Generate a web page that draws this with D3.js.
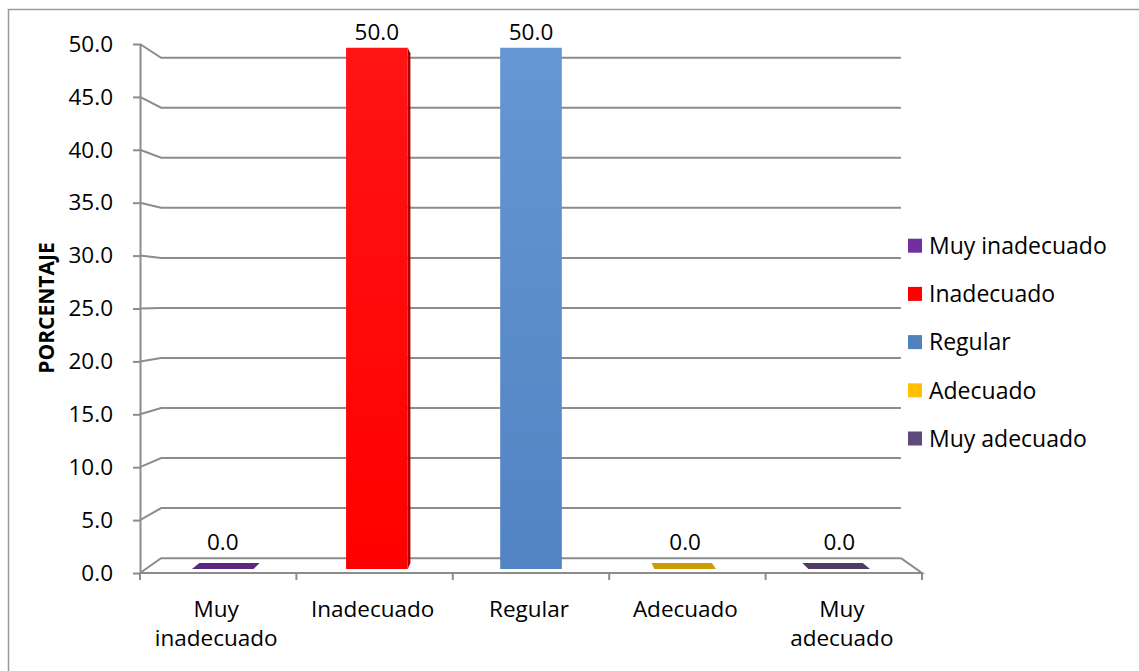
<!DOCTYPE html>
<html>
<head>
<meta charset="utf-8">
<script src="https://cdn.jsdelivr.net/npm/d3@7"></script>
<style>
  body { margin: 0; background: #fff; }
  svg { display: block; }
  text { font-family: "Open Sans", "DejaVu Sans", sans-serif; fill: #000; }
</style>
</head>
<body>
<svg id="chart" width="1139" height="671"></svg>
<script>
// ---- data ----
const categories = ["Muy inadecuado", "Inadecuado", "Regular", "Adecuado", "Muy adecuado"];
const categoryLines = [["Muy", "inadecuado"], ["Inadecuado"], ["Regular"], ["Adecuado"], ["Muy", "adecuado"]];
const percentages = [0.0, 50.0, 50.0, 0.0, 0.0];
const yTickValues = [0, 5, 10, 15, 20, 25, 30, 35, 40, 45, 50];
const seriesColors = ["#7030A0", "#FF0000", "#4F81BD", "#FFC000", "#604A7B"];
const axisTitle = "PORCENTAJE";

// ---- layout ----
const svg = d3.select("#chart");
const gridColor = "#8c8c8c";
const fontSize = 22.5;

const x = d3.scaleBand().domain(categories).range([140, 922]);
const y = d3.scaleLinear().domain([0, 50]).range([573, 44]);

// simple perspective: front plane at depth 0, back wall at depth 1
const vp = [(x.range()[0] + x.range()[1]) / 2, 298];
const shrink = 0.054;
function proj(px, py, depth) {
  const s = 1 - shrink * depth;
  return [vp[0] + (px - vp[0]) * s, vp[1] + (py - vp[1]) * s];
}
const poly = pts => "M" + pts.map(p => p.join(",")).join("L") + "Z";

// chart frame
svg.append("rect")
  .attr("x", 8.5).attr("y", 9.5).attr("width", 1400).attr("height", 900)
  .attr("fill", "none").attr("stroke", "#9a9a9a").attr("stroke-width", 1.5);

// gradients for the tall bars
const defs = svg.append("defs");
const gradStops = {
  1: ["#ff1414", "#ff0000"],
  2: ["#6697d4", "#5283c2"]
};
Object.entries(gradStops).forEach(([i, [c0, c1]]) => {
  const g = defs.append("linearGradient").attr("id", "barGrad" + i)
    .attr("x1", 0).attr("y1", 0).attr("x2", 0).attr("y2", 1);
  g.append("stop").attr("offset", "0%").attr("stop-color", c0);
  g.append("stop").attr("offset", "100%").attr("stop-color", c1);
});

// ---- walls and floor ----
const [xL, xR] = x.range();
const grid = svg.append("g").attr("fill", "none").attr("stroke", gridColor).attr("stroke-width", 2);
yTickValues.forEach(v => {
  const a = proj(xL, y(v), 0), b = proj(xL, y(v), 1), c = proj(xR, y(v), 1);
  grid.append("path").attr("d", `M${a}L${b}L${c}`);
});
// floor front edge and right edge
{
  const a = proj(xL, y(0), 0), b = proj(xR, y(0), 0), c = proj(xR, y(0), 1);
  grid.append("path").attr("d", `M${a}L${b}L${c}`);
}

// ---- y axis ----
const yAxis = svg.append("g")
  .attr("transform", `translate(${xL},0)`)
  .call(d3.axisLeft(y).tickValues(yTickValues).tickFormat(d3.format(".1f"))
    .tickSize(7).tickSizeOuter(0).tickPadding(20));
yAxis.select(".domain").attr("stroke", gridColor).attr("stroke-width", 2);
yAxis.selectAll(".tick line").attr("stroke", gridColor).attr("stroke-width", 2);
yAxis.selectAll(".tick text").attr("font-size", fontSize).attr("fill", "#000")
  .style("font-family", '"Open Sans", sans-serif');

// ---- category axis ticks (band boundaries) ----
const boundaries = categories.map(c => x(c)).concat([xR]);
svg.append("g").selectAll("line").data(boundaries).join("line")
  .attr("x1", d => d).attr("x2", d => d)
  .attr("y1", y(0)).attr("y2", y(0) + 7)
  .attr("stroke", gridColor).attr("stroke-width", 2);

// category labels
const catG = svg.append("g").attr("text-anchor", "middle").attr("font-size", fontSize);
categories.forEach((c, i) => {
  const cx = x(c) + x.bandwidth() / 2 - 2;
  const t = catG.append("text").attr("x", cx).attr("y", 617);
  categoryLines[i].forEach((line, j) => {
    t.append("tspan").attr("x", cx).attr("dy", j === 0 ? 0 : 29).text(line);
  });
});

// ---- bars (3D boxes) ----
const barW = x.bandwidth() * 0.40;
const d1 = 0.27, d2 = 0.67;
const barsG = svg.append("g");
const labelsG = svg.append("g").attr("text-anchor", "middle").attr("font-size", fontSize);

categories.forEach((c, i) => {
  const v = percentages[i];
  const cx = x(c) + x.bandwidth() / 2;
  const x0 = cx - barW / 2, x1 = cx + barW / 2;
  const yT = y(v), yB = y(0);
  const base = d3.color(seriesColors[i]);
  const g = barsG.append("g");

  // side face (toward the vanishing point)
  if (yT < yB && Math.abs(cx - vp[0]) > 1) {
    const sx = cx < vp[0] ? x1 : x0;
    g.append("path")
      .attr("d", poly([proj(sx, yT, d1), proj(sx, yT, d2), proj(sx, yB, d2), proj(sx, yB, d1)]))
      .attr("fill", base.darker(1.1).formatHex());
  }
  // top face, visible when it lies below eye level
  if (yT > vp[1]) {
    g.append("path")
      .attr("d", poly([proj(x0, yT, d1), proj(x1, yT, d1), proj(x1, yT, d2), proj(x0, yT, d2)]))
      .attr("fill", base.darker(0.6).formatHex());
  }
  // front face
  if (yT < yB) {
    g.append("path")
      .attr("d", poly([proj(x0, yT, d1), proj(x1, yT, d1), proj(x1, yB, d1), proj(x0, yB, d1)]))
      .attr("fill", gradStops[i] ? `url(#barGrad${i})` : base.formatHex());
  }

  // value label
  const front = proj(cx, yT, d1);
  const back = proj(cx, yT, d2);
  labelsG.append("text")
    .attr("x", front[0]).attr("y", back[1] - 13.5)
    .text(d3.format(".1f")(v));
});

// ---- y axis title ----
svg.append("text")
  .attr("transform", "translate(54,308) rotate(-90)")
  .attr("text-anchor", "middle")
  .attr("font-size", 21).attr("font-weight", "bold")
  .text(axisTitle);

// ---- legend ----
const legend = svg.append("g");
categories.forEach((c, i) => {
  const cy = 245.7 + i * 48.2;
  legend.append("rect").attr("x", 908).attr("y", cy - 7).attr("width", 14).attr("height", 14)
    .attr("fill", seriesColors[i]);
  legend.append("text").attr("x", 929).attr("y", cy + 8.3).attr("font-size", 23).text(c);
});
</script>
</body>
</html>
